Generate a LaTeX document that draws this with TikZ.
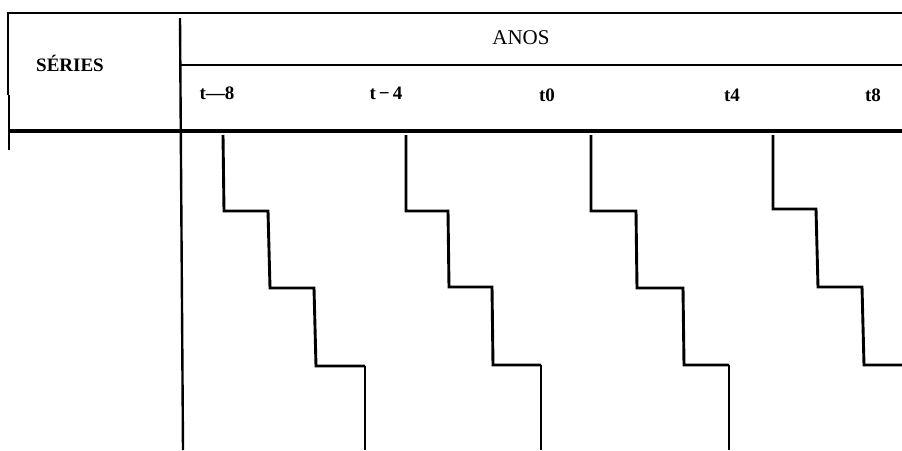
\documentclass[tikz,border=0pt]{standalone}
\usepackage{fontspec}
\setmainfont{Liberation Serif}
\begin{document}
\begin{tikzpicture}[x=1pt,y=-1pt,
  rule/.style={line width=2.4pt},
  thickrule/.style={line width=3.4pt},
  stair/.style={line width=2.9pt, line join=miter},
  lbl/.style={font=\fontsize{19}{22}\selectfont\bfseries, inner sep=0pt},
  hdr/.style={font=\fontsize{21}{24}\selectfont, inner sep=0pt}]
\useasboundingbox (0,0) rectangle (902,450);
% frame
\draw[rule] (7,13) -- (902,13);
\draw[line width=1.2pt] (8,13) -- (8,95);
\draw[line width=2.8pt] (9,95) -- (9,150);
\draw[rule] (180,18) -- (183,450);
\draw[rule] (180,65) -- (902,65);
\draw[thickrule] (10,131) -- (902,131);
% labels
\node[lbl] (series) at (70,63) {SÉRIES};
\node[hdr] (anos) at (521,38) {ANOS};
\node[lbl] (tm8) at (217,93) {t—8};
\node[lbl] (tm4) at (386,93) {t\,−\,4};
\node[lbl] (t0) at (547,95) {t0};
\node[lbl] (t4) at (732,95) {t4};
\node[lbl] (t8) at (873,95) {t8};
% staircases
\draw[stair] (223,135) -- (224,211) -- (268,211) -- (270,288) -- (314,288) -- (316,366) -- (365,366);
\draw[stair] (365,366) -- (365,450);
\draw[stair] (406,135) -- (406,211) -- (448,211) -- (449,287) -- (492,287) -- (493,365) -- (541,365);
\draw[stair] (541,365) -- (541,450);
\draw[stair] (591,135) -- (591,211) -- (636,211) -- (637,288) -- (683,288) -- (684,365) -- (729,365);
\draw[stair] (729,365) -- (729,450);
\draw[stair] (773,135) -- (773,209) -- (816,209) -- (818,287) -- (862,287) -- (864,365) -- (902,365);
\end{tikzpicture}
\end{document}
